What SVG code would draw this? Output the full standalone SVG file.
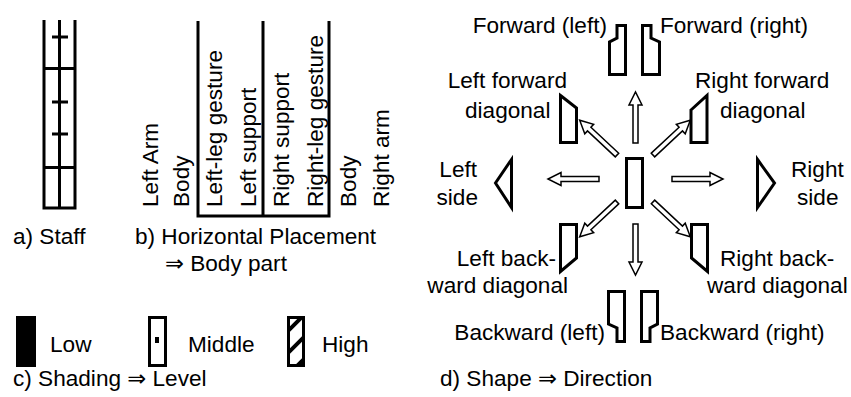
<svg xmlns="http://www.w3.org/2000/svg" xmlns:xlink="http://www.w3.org/1999/xlink" width="851" height="397" viewBox="0 0 851 397">
<style>
text{font-family:"Liberation Sans",Arial,"DejaVu Sans",sans-serif;font-size:22.6px;fill:#000}
.e{text-anchor:end}
.ln{stroke:#000;stroke-width:3;fill:none}
.sh{stroke:#000;stroke-width:3;fill:#fff;stroke-linejoin:miter}
.ar{stroke:#000;stroke-width:1.5;fill:#fff}
</style>
<defs>
<polygon id="arr" points="0,-2.5 38,-2.5 38,-6.5 51,0 38,6.5 38,2.5 0,2.5"/>
<clipPath id="hc"><rect x="287" y="316" width="18" height="51"/></clipPath>
</defs>
<rect width="851" height="397" fill="#fff"/>

<g id="staff">
<path class="ln" d="M44,20V208M59.5,20V208M75,20V208M42.5,68.5H76.5M42.5,167.5H76.5M42.5,208H76.5M52,37H68M52,102H68M52,134H68"/>
<text x="13" y="244">a) Staff</text>
</g>

<g id="placement">
<path class="ln" d="M198,21V216M263,21V216M329,21V216M196.5,216H330.5"/>
<g>
<text transform="translate(158,207) rotate(-90)">Left Arm</text>
<text transform="translate(189,207) rotate(-90)">Body</text>
<text transform="translate(222,207) rotate(-90)">Left-leg gesture</text>
<text transform="translate(256,207) rotate(-90)">Left support</text>
<text transform="translate(289,207) rotate(-90)">Right support</text>
<text transform="translate(323,207) rotate(-90)">Right-leg gesture</text>
<text transform="translate(356,207) rotate(-90)">Body</text>
<text transform="translate(389,207) rotate(-90)">Right arm</text>
</g>
<text x="135" y="244">b) Horizontal Placement</text>
<text x="165" y="271">⇒ Body part</text>
</g>

<g id="shading">
<rect x="16" y="316" width="20" height="51" fill="#000"/>
<text x="50" y="352">Low</text>
<rect class="sh" x="149.5" y="317.5" width="16" height="48"/>
<rect x="155" y="337" width="4" height="6" fill="#000"/>
<text x="188" y="352">Middle</text>
<g clip-path="url(#hc)">
<path stroke="#000" stroke-width="4" d="M285,334L307,312M285,356L307,334M285,378L307,356"/>
</g>
<rect class="ln" x="288.5" y="317.5" width="15" height="48"/>
<text x="322" y="352">High</text>
<text x="13" y="386">c) Shading ⇒ Level</text>
</g>

<g id="connectors">
<use xlink:href="#arr" class="ar" transform="translate(635.5,143) rotate(-90)"/>
<use xlink:href="#arr" class="ar" transform="translate(635.5,224) rotate(90)"/>
<use xlink:href="#arr" class="ar" transform="translate(672,179)"/>
<use xlink:href="#arr" class="ar" transform="translate(599,179) rotate(180)"/>
<use xlink:href="#arr" class="ar" transform="translate(617,155) rotate(-137)"/>
<use xlink:href="#arr" class="ar" transform="translate(653,155) rotate(-43)"/>
<use xlink:href="#arr" class="ar" transform="translate(617,202) rotate(137)"/>
<use xlink:href="#arr" class="ar" transform="translate(653,202) rotate(43)"/>
</g>

<g id="center"><rect class="sh" x="626.5" y="158.5" width="16" height="49"/></g>

<g id="forward-left">
<polygon class="sh" points="617,25.5 625.5,25.5 625.5,74.5 609.5,74.5 609.5,42 617,38"/>
<text class="e" x="607" y="33">Forward (left)</text>
</g>
<g id="forward-right">
<polygon class="sh" points="642.5,25.5 651,25.5 651,38 659.5,42 659.5,74.5 642.5,74.5"/>
<text x="660" y="33">Forward (right)</text>
</g>
<g id="left-forward-diagonal">
<polygon class="sh" points="560.5,95.5 576.5,108 576.5,142.5 560.5,142.5"/>
<text class="e" x="567" y="88">Left forward</text>
<text x="465" y="118">diagonal</text>
</g>
<g id="right-forward-diagonal">
<polygon class="sh" points="691,110 707,95.5 707,142.5 691,142.5"/>
<text x="695" y="88">Right forward</text>
<text x="720" y="118">diagonal</text>
</g>
<g id="left-side">
<polygon class="sh" points="511.5,159.5 511.5,207.5 495.5,183"/>
<text class="e" x="477" y="177">Left</text>
<text class="e" x="478" y="205">side</text>
</g>
<g id="right-side">
<polygon class="sh" points="757.5,159.5 774.5,183 757.5,207.5"/>
<text x="791" y="177">Right</text>
<text x="797" y="205">side</text>
</g>
<g id="left-backward-diagonal">
<polygon class="sh" points="560.5,224.5 576.5,224.5 576.5,258 560.5,271.5"/>
<text class="e" x="556" y="266">Left back-</text>
<text class="e" x="568" y="293">ward diagonal</text>
</g>
<g id="right-backward-diagonal">
<polygon class="sh" points="691.5,224.5 707.5,224.5 707.5,271.5 691.5,258"/>
<text x="720" y="266">Right back-</text>
<text x="707" y="293">ward diagonal</text>
</g>
<g id="backward-left">
<polygon class="sh" points="608.5,291.5 624.5,291.5 624.5,341.5 617,341.5 617,328 608.5,324"/>
<text class="e" x="605" y="340">Backward (left)</text>
</g>
<g id="backward-right">
<polygon class="sh" points="641.5,291.5 657.5,291.5 657.5,324 650,328 650,341.5 641.5,341.5"/>
<text x="660" y="340">Backward (right)</text>
</g>
<text x="440" y="386">d) Shape ⇒ Direction</text>
</svg>
